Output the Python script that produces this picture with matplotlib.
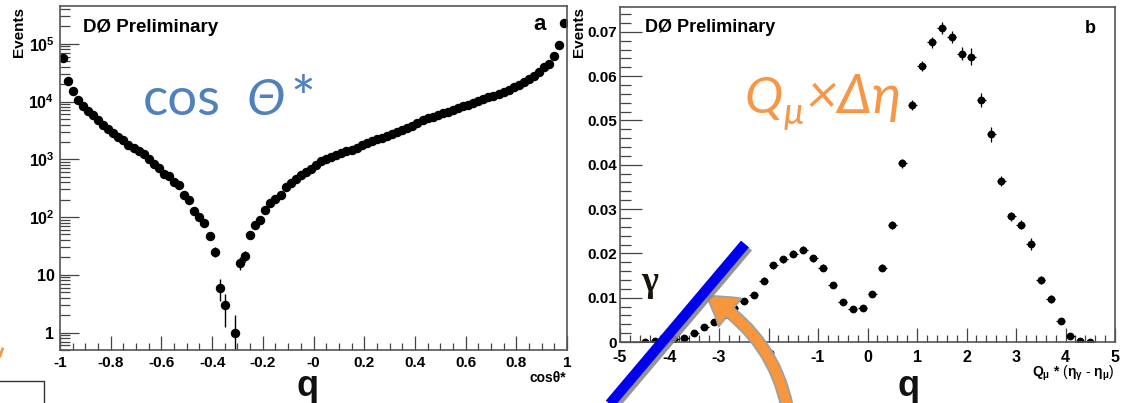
import numpy as np
import matplotlib
matplotlib.use('Agg')
import matplotlib.pyplot as plt
import matplotlib.patheffects as pe
from matplotlib.patches import FancyArrowPatch
from matplotlib.ticker import MultipleLocator, LogLocator, NullFormatter

plt.rcParams['font.family'] = ['Liberation Sans', 'DejaVu Sans']
plt.rcParams['mathtext.fontset'] = 'custom'
plt.rcParams['mathtext.rm'] = 'Liberation Sans'
plt.rcParams['mathtext.bf'] = 'Liberation Sans:bold'
plt.rcParams['mathtext.it'] = 'Liberation Sans:italic'

# panel a : cos theta*, 100 bins in [-1, 1]  (0 = empty bin)
cos_edges = np.linspace(-1, 1, 101)
cos_counts = [
    56000, 23000, 15000, 10700, 8500, 6900, 5750, 4800, 3900, 3300,
    2900, 2450, 2150, 1800, 1580, 1380, 1230, 1020, 820, 720,
    551, 516, 406, 356, 240, 196, 127, 101, 78, 47,
    25, 6, 3, 0, 1, 16, 21, 48, 73, 89,
    132, 172, 204, 245, 330, 395, 464, 530, 605, 690,
    790, 925, 1000, 1096, 1205, 1285, 1393, 1470, 1590, 1740,
    1910, 2070, 2210, 2365, 2525, 2775, 2960, 3245, 3465, 3750,
    4225, 4700, 5100, 5500, 5900, 6350, 6700, 7150, 7750, 8200,
    8750, 9500, 10100, 11000, 11900, 12700, 13600, 14900, 16100, 17700,
    19600, 21500, 24600, 28000, 32900, 39000, 44600, 62000, 95000, 227000]
cos_xlabels = ['-1', '-0.8', '-0.6', '-0.4', '-0.2', '-0', '0.2', '0.4', '0.6', '0.8', '1']
cos_ylabels = ['1', '10', r'$\mathbf{10^{2}}$', r'$\mathbf{10^{3}}$', r'$\mathbf{10^{4}}$', r'$\mathbf{10^{5}}$']

# panel b : Q_mu * (eta_gamma - eta_mu), 50 bins in [-5, 5]  (nan = empty bin)
qeta_edges = np.linspace(-5, 5, 51)
qeta_vals = [
    np.nan, np.nan, 0.0001, 0.0002, 0.0004, 0.0006, 0.0009, 0.0021, 0.0033, 0.0045,
    0.0060, 0.0076, 0.0093, 0.0106, 0.0138, 0.0173, 0.0187, 0.0199, 0.0208, 0.0189,
    0.0168, 0.0129, 0.0091, 0.0074, 0.0077, 0.0108, 0.0168, 0.0265, 0.0403, 0.0534,
    0.0623, 0.0676, 0.0709, 0.0688, 0.0651, 0.0644, 0.0546, 0.0469, 0.0363, 0.0284,
    0.0265, 0.0221, 0.0140, 0.0097, 0.0047, 0.0014, 0.0002, 0.0001, np.nan, np.nan]
qeta_err = [
    0, 0, 0.0001, 0.0001, 0.0002, 0.0002, 0.0003, 0.0004, 0.0005, 0.0005,
    0.0006, 0.0006, 0.0007, 0.0007, 0.0008, 0.0008, 0.0008, 0.0008, 0.0008, 0.0008,
    0.0008, 0.0007, 0.0006, 0.0006, 0.0006, 0.0007, 0.0008, 0.0009, 0.0010, 0.0011,
    0.0012, 0.0013, 0.0013, 0.0013, 0.0014, 0.0019, 0.0016, 0.0017, 0.0012, 0.0010,
    0.0010, 0.0013, 0.0010, 0.0008, 0.0006, 0.0003, 0.0001, 0.0001, 0, 0]
qeta_xlabels = ['-5', '-4', '-3', '-2', '-1', '0', '1', '2', '3', '4', '5']
qeta_ylabels = ['0', '0.01', '0.02', '0.03', '0.04', '0.05', '0.06', '0.07']

W, H = 1122, 403
fig = plt.figure(figsize=(W / 100, H / 100), dpi=100)
fig.patch.set_facecolor('white')

frame_col = '#555555'


def style_frame(ax):
    for s in ax.spines.values():
        s.set_color(frame_col)
        s.set_linewidth(1.2)
    ax.tick_params(which='both', direction='in', top=False, right=False,
                   color='#444444', width=0.9, labelsize=11)
    for lab in ax.get_xticklabels() + ax.get_yticklabels():
        lab.set_fontweight('bold')


# ---- panel a
ax1 = fig.add_axes([60 / W, 1 - 350 / H, 507 / W, 344 / H])
ax1.set_yscale('log')
cc = np.array(cos_counts, dtype=float)
cx = 0.5 * (cos_edges[:-1] + cos_edges[1:])
ok = cc > 0
err = np.sqrt(cc[ok])
lo = cc[ok] - np.maximum(cc[ok] - err, 0.3)
ax1.errorbar(cx[ok], cc[ok], yerr=[lo, err], fmt='o', color='black', ms=5.8,
             elinewidth=1.0, capsize=0)
ax1.set_xlim(-1, 1)
ax1.set_ylim(0.5, 4.5e5)
ax1.set_xticks(np.linspace(-1, 1, 11))
ax1.set_xticklabels(cos_xlabels)
ax1.xaxis.set_minor_locator(MultipleLocator(0.05))
ax1.set_yticks([1, 10, 1e2, 1e3, 1e4, 1e5])
ax1.set_yticklabels(cos_ylabels)
ax1.yaxis.set_minor_locator(LogLocator(base=10, subs=np.arange(2, 10)))
ax1.yaxis.set_minor_formatter(NullFormatter())
style_frame(ax1)
ax1.tick_params(axis='x', which='major', length=10, pad=4)
ax1.tick_params(axis='x', which='minor', length=5)
ax1.tick_params(axis='y', which='major', length=14, pad=4, labelsize=11.5)
ax1.tick_params(axis='y', which='minor', length=7)

# ---- panel b
ax2 = fig.add_axes([620 / W, 1 - 342 / H, 495 / W, 335 / H])
qv = np.array(qeta_vals, dtype=float)
qx = 0.5 * (qeta_edges[:-1] + qeta_edges[1:])
ok2 = ~np.isnan(qv)
ax2.errorbar(qx[ok2], qv[ok2], yerr=np.array(qeta_err)[ok2], xerr=0.09, fmt='o',
             color='black', ms=4.6, elinewidth=0.9, capsize=0)
ax2.set_xlim(-5, 5)
ax2.set_ylim(0, 0.0756)
ax2.set_xticks(np.arange(-5, 6, 1))
ax2.set_xticklabels(qeta_xlabels)
ax2.xaxis.set_minor_locator(MultipleLocator(0.2))
ax2.set_yticks(np.arange(0, 0.071, 0.01))
ax2.set_yticklabels(qeta_ylabels)
ax2.yaxis.set_minor_locator(MultipleLocator(0.002))
style_frame(ax2)
ax2.tick_params(axis='x', labelsize=11.5)
ax2.tick_params(axis='x', which='major', length=10, pad=6)
ax2.tick_params(axis='x', which='minor', length=5)
ax2.tick_params(axis='y', which='major', length=16, pad=2, labelsize=11)
ax2.tick_params(axis='y', which='minor', length=8)

# ---- overlay in picture pixels (y down)
ov = fig.add_axes([0, 0, 1, 1])
ov.set_xlim(0, W)
ov.set_ylim(H, 0)
ov.axis('off')
ov.set_zorder(10)
ov.patch.set_alpha(0)

# axis titles / labels
ov.text(19, 7, 'Events', rotation=90, ha='center', va='top', fontsize=11, fontweight='bold')
ov.text(579, 7, 'Events', rotation=90, ha='center', va='top', fontsize=11, fontweight='bold')
ov.text(566, 382, 'cosθ*', ha='right', va='baseline', fontsize=10, fontweight='bold')
ov.text(1114, 377, r'$\mathbf{Q_{\mu}}$ $\mathbf{*}$ ($\mathbf{\eta_{\gamma}}$ - $\mathbf{\eta_{\mu}}$)',
        ha='right', va='baseline', fontsize=10)
ov.text(83, 32, 'DØ Preliminary', ha='left', va='baseline', fontsize=13.5, fontweight='bold')
ov.text(645, 32, 'DØ Preliminary', ha='left', va='baseline', fontsize=13, fontweight='bold')
ov.text(533, 30, 'a', ha='left', va='baseline', fontsize=16, fontweight='bold')
ov.text(1085, 33, 'b', ha='left', va='baseline', fontsize=13, fontweight='bold')

# slide annotations
blue_txt = '#4F81BD'
orange = '#F79646'
slide_font = ['Lato', 'Open Sans', 'DejaVu Sans']
ov.text(143, 115, 'cos', ha='left', va='baseline', fontsize=38, color=blue_txt,
        family=slide_font)
ov.text(246, 115, 'Θ', ha='left', va='baseline', fontsize=37, color=blue_txt,
        style='italic', family=slide_font)
ov.text(290, 118, '*', ha='left', va='baseline', fontsize=42, color=blue_txt,
        family=slide_font)

ov.text(744, 113, 'Q', ha='left', va='baseline', fontsize=37, color=orange,
        style='italic', family=slide_font)
ov.text(784, 124, 'μ', ha='left', va='baseline', fontsize=26, color=orange,
        style='italic', family=slide_font)
ov.text(806, 113, '×Δη', ha='left', va='baseline', fontsize=39, color=orange,
        style='italic', family=slide_font)

ov.text(641, 291, 'γ', ha='left', va='baseline', fontsize=26, fontweight='bold',
        color='#1a1408', family=['Liberation Serif', 'DejaVu Serif'])
ov.text(297, 396, 'q', ha='left', va='baseline', fontsize=26, fontweight='bold', color='#111111')
ov.text(898, 396, 'q', ha='left', va='baseline', fontsize=26, fontweight='bold', color='#111111')

# blue bar
ov.plot([603, 745], [412, 244], color='#0000EE', lw=7.5, solid_capstyle='butt',
        path_effects=[pe.SimpleLineShadow(offset=(2.2, -2.2), shadow_color='#8a8a8a', alpha=0.9),
                      pe.Normal()])

# orange arrow
arr = FancyArrowPatch((790, 425), (706, 296), connectionstyle='arc3,rad=0.25',
                      arrowstyle='simple,head_length=21,head_width=26,tail_width=8.5',
                      mutation_scale=1, shrinkA=0, shrinkB=0,
                      fc='#F7963C', ec='#a0a0a0', lw=1.3)
ov.add_patch(arr)

# bits cut off at the slide edge
ov.plot([0, 2.5], [356, 349], color=orange, lw=2)
ov.plot([0, 44, 44], [381, 381, 410], color='#333333', lw=1)

fig.savefig('out.png', dpi=100)
